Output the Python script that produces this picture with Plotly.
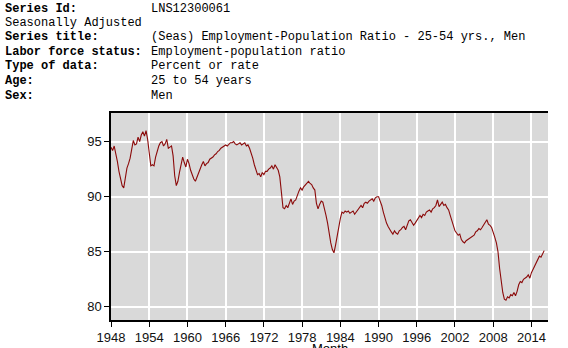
import plotly.graph_objects as go

# Quarterly values (percent), starting 1948 Q1
start_year = 1948
values = [
    94.5, 94.2, 94.6, 94.0,   # 1948
    93.2, 92.3, 91.6, 91.0,   # 1949
    90.8, 91.6, 92.6, 93.0,   # 1950
    93.5, 94.3, 95.1, 94.7,   # 1951
    94.8, 95.4, 95.0, 95.6,   # 1952
    95.9, 95.5, 96.0, 95.2,   # 1953
    93.8, 92.8, 92.9, 92.8,   # 1954
    93.6, 94.2, 94.6, 94.9,   # 1955
    95.0, 94.6, 94.8, 95.2,   # 1956
    94.4, 94.5, 94.6, 93.7,   # 1957
    91.9, 91.0, 91.4, 92.2,   # 1958
    93.0, 93.6, 93.1, 92.7,   # 1959
    93.4, 93.0, 92.4, 92.0,   # 1960
    91.6, 91.4, 91.8, 92.2,   # 1961
    92.5, 92.9, 93.2, 92.8,   # 1962
    93.0, 93.1, 93.4, 93.5,   # 1963
    93.6, 93.8, 93.9, 94.1,   # 1964
    94.2, 94.4, 94.5, 94.6,   # 1965
    94.7, 94.6, 94.8, 94.9,   # 1966
    94.9, 95.0, 94.8, 94.7,   # 1967
    94.8, 94.9, 94.7, 94.8,   # 1968
    94.9, 94.6, 94.7, 94.4,   # 1969
    94.0, 93.5, 92.9, 92.4,   # 1970
    92.0, 92.1, 91.8, 92.2,   # 1971
    92.0, 92.3, 92.3, 92.5,   # 1972
    92.6, 92.8, 92.5, 92.9,   # 1973
    92.7, 92.4, 91.8, 90.5,   # 1974
    89.0, 88.9, 89.2, 89.0,   # 1975
    89.5, 89.8, 89.3, 89.6,   # 1976
    89.7, 90.2, 90.5, 90.8,   # 1977
    90.6, 90.9, 91.1, 91.3,   # 1978
    91.4, 91.2, 91.1, 90.8,   # 1979
    90.6, 89.4, 88.9, 89.3,   # 1980
    89.6, 89.5, 89.0, 88.3,   # 1981
    87.6, 86.6, 85.8, 85.2,   # 1982
    84.9, 85.6, 86.5, 87.5,   # 1983
    88.0, 88.6, 88.5, 88.7,   # 1984
    88.6, 88.7, 88.5, 88.6,   # 1985
    88.7, 88.4, 88.6, 88.8,   # 1986
    89.0, 89.2, 89.0, 89.4,   # 1987
    89.5, 89.4, 89.6, 89.7,   # 1988
    89.8, 89.6, 89.9, 90.0,   # 1989
    90.0, 89.6, 89.2, 88.6,   # 1990
    88.0, 87.6, 87.3, 87.0,   # 1991
    86.8, 86.6, 86.9, 86.7,   # 1992
    86.6, 86.9, 87.0, 87.2,   # 1993
    87.3, 87.0, 87.5, 87.8,   # 1994
    87.9, 87.6, 87.4, 87.6,   # 1995
    87.8, 88.0, 88.3, 88.1,   # 1996
    88.4, 88.3, 88.6, 88.7,   # 1997
    88.8, 88.6, 88.9, 89.0,   # 1998
    89.2, 89.7, 89.1, 89.3,   # 1999
    89.5, 89.2, 89.3, 89.0,   # 2000
    88.8, 88.3, 87.8, 87.2,   # 2001
    86.9, 86.7, 86.5, 86.6,   # 2002
    86.1, 85.9, 85.8, 86.0,   # 2003
    86.1, 86.2, 86.3, 86.4,   # 2004
    86.5, 86.8, 86.9, 87.1,   # 2005
    87.0, 87.2, 87.4, 87.6,   # 2006
    87.9, 87.5, 87.4, 87.2,   # 2007
    86.8, 86.3, 85.8, 85.0,   # 2008
    83.5, 82.2, 81.3, 80.7,   # 2009
    80.6, 80.9, 80.8, 81.1,   # 2010
    81.0, 81.3, 81.0, 81.4,   # 2011
    82.0, 82.3, 82.2, 82.5,   # 2012
    82.6, 82.7, 82.9, 82.6,   # 2013
    83.1, 83.4, 83.7, 84.0,   # 2014
    84.3, 84.6, 84.5, 84.9,   # 2015
    85.1,                     # 2016
]
years = [start_year + i * 0.25 for i in range(len(values))]

x_ticks = [1948, 1954, 1960, 1966, 1972, 1978, 1984, 1990, 1996, 2002, 2008, 2014]
y_ticks = [80, 85, 90, 95]

header_labels = ["Series Id:", None, "Series title:", "Labor force status:",
                 "Type of data:", "Age:", "Sex:"]
header_values = ["LNS12300061", "Seasonally Adjusted",
                 "(Seas) Employment-Population Ratio - 25-54 yrs., Men",
                 "Employment-population ratio", "Percent or rate",
                 "25 to 54 years", "Men"]

W, H = 568, 348
L, R, T, B = 111, 20, 113, 28
pw, ph = W - L - R, H - T - B

def px(xp):
    return (xp - L) / pw

def py(yp):
    return (H - B - yp) / ph

fig = go.Figure()
fig.add_trace(go.Scatter(x=years, y=values, mode="lines",
                         line=dict(color="#8b0a0a", width=1.1),
                         hoverinfo="skip"))

annotations = []
line_y = [8.5, 23, 37.5, 52, 66.5, 81, 95.5]
mono = dict(family="Liberation Mono, Courier New, monospace", size=12, color="#000000")
for i, (lab, val) in enumerate(zip(header_labels, header_values)):
    yy = py(line_y[i])
    if lab is None:
        annotations.append(dict(text=val, x=px(3), y=yy, xref="paper", yref="paper",
                                xanchor="left", yanchor="middle", showarrow=False, font=mono))
    else:
        annotations.append(dict(text="<b>" + lab + "</b>", x=px(3), y=yy, xref="paper", yref="paper",
                                xanchor="left", yanchor="middle", showarrow=False, font=mono))
        annotations.append(dict(text=val, x=px(149), y=yy, xref="paper", yref="paper",
                                xanchor="left", yanchor="middle", showarrow=False, font=mono))

annotations.append(dict(text="Month", x=0.5, y=py(339), xref="paper", yref="paper",
                        xanchor="center", yanchor="top", showarrow=False,
                        font=dict(family="Liberation Sans, Arial", size=13, color="#000000")))

fig.update_layout(
    width=W, height=H,
    margin=dict(l=L, r=R, t=T, b=B, pad=0, autoexpand=False),
    paper_bgcolor="white",
    plot_bgcolor="#d9d9d9",
    showlegend=False,
    annotations=annotations,
    xaxis=dict(range=[1948, 2016.6], tickvals=x_ticks, ticktext=[str(v) for v in x_ticks],
               showgrid=True, gridcolor="white", gridwidth=1.5,
               showline=True, linecolor="black", linewidth=1.5, mirror=True,
               ticks="outside", ticklen=5, tickcolor="black", tickwidth=1,
               automargin=False,
               zeroline=False,
               tickfont=dict(family="Liberation Sans, Arial", size=13, color="#111111")),
    yaxis=dict(range=[78.8, 97.6], tickvals=y_ticks, ticktext=[str(v) for v in y_ticks],
               showgrid=True, gridcolor="white", gridwidth=1.5,
               showline=True, linecolor="black", linewidth=1.5, mirror=False,
               ticks="outside", ticklen=5, tickcolor="black", tickwidth=1,
               automargin=False,
               zeroline=False,
               tickfont=dict(family="Liberation Sans, Arial", size=13, color="#111111")),
)

fig.write_html("out.html")
